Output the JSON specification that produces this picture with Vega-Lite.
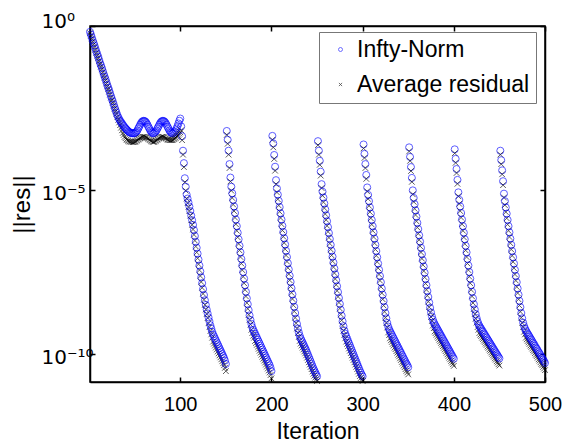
{
"$schema": "https://vega.github.io/schema/vega-lite/v6.json",
"width": 455, "height": 356,
"autosize": {"type": "none"},
"padding": {"left": 90, "top": 26, "right": 20, "bottom": 60},
"background": "white",
"config": {"view": {"stroke": "black", "strokeWidth": 1.5}, "font": "Liberation Sans"},
"data": {"values": [
{"x":1,"n":6.61e-1,"a":6.03e-1},{"x":2,"n":5.50e-1,"a":5.01e-1},{"x":3,"n":4.47e-1,"a":4.07e-1},{"x":4,"n":3.63e-1,"a":3.31e-1},{"x":5,"n":3.02e-1,"a":2.75e-1},
{"x":6,"n":2.51e-1,"a":2.29e-1},{"x":7,"n":2.04e-1,"a":1.86e-1},{"x":8,"n":1.66e-1,"a":1.51e-1},{"x":9,"n":1.38e-1,"a":1.26e-1},{"x":10,"n":1.15e-1,"a":1.05e-1},
{"x":11,"n":9.33e-2,"a":8.51e-2},{"x":12,"n":7.59e-2,"a":6.92e-2},{"x":13,"n":6.31e-2,"a":5.75e-2},{"x":14,"n":5.25e-2,"a":4.79e-2},{"x":15,"n":4.27e-2,"a":3.89e-2},
{"x":16,"n":3.47e-2,"a":3.16e-2},{"x":17,"n":2.88e-2,"a":2.63e-2},{"x":18,"n":2.40e-2,"a":2.19e-2},{"x":19,"n":1.95e-2,"a":1.78e-2},{"x":20,"n":1.58e-2,"a":1.45e-2},
{"x":21,"n":1.32e-2,"a":1.20e-2},{"x":22,"n":1.10e-2,"a":1.00e-2},{"x":23,"n":8.91e-3,"a":8.13e-3},{"x":24,"n":7.24e-3,"a":6.61e-3},{"x":25,"n":6.03e-3,"a":5.50e-3},
{"x":26,"n":5.01e-3,"a":4.57e-3},{"x":27,"n":4.07e-3,"a":3.72e-3},{"x":28,"n":3.31e-3,"a":3.02e-3},{"x":29,"n":2.75e-3,"a":2.51e-3},{"x":30,"n":2.29e-3,"a":2.09e-3},
{"x":31,"n":1.91e-3,"a":1.66e-3},{"x":32,"n":1.66e-3,"a":1.38e-3},{"x":33,"n":1.45e-3,"a":1.15e-3},{"x":34,"n":1.29e-3,"a":9.55e-4},{"x":35,"n":1.18e-3,"a":7.94e-4},
{"x":36,"n":1.07e-3,"a":6.61e-4},{"x":37,"n":9.77e-4,"a":5.50e-4},{"x":38,"n":8.91e-4,"a":4.79e-4},{"x":39,"n":8.13e-4,"a":4.17e-4},{"x":40,"n":7.59e-4,"a":3.80e-4},
{"x":41,"n":7.08e-4,"a":3.47e-4},{"x":42,"n":6.61e-4,"a":3.31e-4},{"x":43,"n":6.17e-4,"a":3.16e-4},{"x":44,"n":5.89e-4,"a":3.02e-4},{"x":45,"n":5.62e-4,"a":3.02e-4},
{"x":46,"n":5.50e-4,"a":2.95e-4},{"x":47,"n":5.37e-4,"a":2.95e-4},{"x":48,"n":5.37e-4,"a":2.88e-4},{"x":49,"n":5.37e-4,"a":2.88e-4},{"x":50,"n":5.37e-4,"a":2.95e-4},
{"x":51,"n":5.62e-4,"a":3.02e-4},{"x":52,"n":6.03e-4,"a":3.16e-4},{"x":53,"n":6.61e-4,"a":3.31e-4},{"x":54,"n":7.59e-4,"a":3.47e-4},{"x":55,"n":8.51e-4,"a":3.63e-4},
{"x":56,"n":9.77e-4,"a":3.80e-4},{"x":57,"n":1.10e-3,"a":3.98e-4},{"x":58,"n":1.20e-3,"a":4.07e-4},{"x":59,"n":1.26e-3,"a":4.17e-4},{"x":60,"n":1.29e-3,"a":4.17e-4},
{"x":61,"n":1.26e-3,"a":4.17e-4},{"x":62,"n":1.20e-3,"a":4.07e-4},{"x":63,"n":1.10e-3,"a":3.98e-4},{"x":64,"n":9.77e-4,"a":3.80e-4},{"x":65,"n":8.51e-4,"a":3.63e-4},
{"x":66,"n":7.59e-4,"a":3.47e-4},{"x":67,"n":6.61e-4,"a":3.31e-4},{"x":68,"n":6.03e-4,"a":3.16e-4},{"x":69,"n":5.62e-4,"a":3.02e-4},{"x":70,"n":5.37e-4,"a":2.95e-4},
{"x":71,"n":5.37e-4,"a":2.95e-4},{"x":72,"n":5.62e-4,"a":3.02e-4},{"x":73,"n":6.03e-4,"a":3.16e-4},{"x":74,"n":6.61e-4,"a":3.31e-4},{"x":75,"n":7.59e-4,"a":3.47e-4},
{"x":76,"n":8.51e-4,"a":3.63e-4},{"x":77,"n":9.77e-4,"a":3.80e-4},{"x":78,"n":1.10e-3,"a":3.98e-4},{"x":79,"n":1.20e-3,"a":4.07e-4},{"x":80,"n":1.26e-3,"a":4.17e-4},
{"x":81,"n":1.29e-3,"a":4.17e-4},{"x":82,"n":1.26e-3,"a":4.07e-4},{"x":83,"n":1.20e-3,"a":3.98e-4},{"x":84,"n":1.10e-3,"a":3.80e-4},{"x":85,"n":9.77e-4,"a":3.63e-4},
{"x":86,"n":8.51e-4,"a":3.47e-4},{"x":87,"n":7.59e-4,"a":3.39e-4},{"x":88,"n":6.61e-4,"a":3.31e-4},{"x":89,"n":6.03e-4,"a":3.31e-4},{"x":90,"n":5.62e-4,"a":3.31e-4},
{"x":91,"n":5.37e-4,"a":3.31e-4},{"x":92,"n":5.37e-4,"a":3.39e-4},{"x":93,"n":5.62e-4,"a":3.55e-4},{"x":94,"n":6.03e-4,"a":3.72e-4},{"x":95,"n":6.61e-4,"a":3.89e-4},
{"x":96,"n":7.59e-4,"a":4.17e-4},{"x":97,"n":8.91e-4,"a":4.47e-4},{"x":98,"n":1.07e-3,"a":4.79e-4},{"x":99,"n":1.29e-3,"a":5.25e-4},{"x":100,"n":1.51e-3,"a":5.75e-4},
{"x":101,"n":8.71e-4,"a":6.61e-4},{"x":102,"n":4.37e-4,"a":3.31e-4},{"x":103,"n":1.58e-4,"a":1.20e-4},{"x":104,"n":6.61e-5,"a":5.01e-5},{"x":105,"n":2.29e-5,"a":1.74e-5},
{"x":106,"n":1.26e-5,"a":9.55e-6},{"x":107,"n":7.24e-6,"a":5.50e-6},{"x":108,"n":5.50e-6,"a":3.98e-6},{"x":109,"n":4.17e-6,"a":3.02e-6},{"x":110,"n":3.16e-6,"a":2.29e-6},
{"x":111,"n":2.29e-6,"a":1.66e-6},{"x":112,"n":1.66e-6,"a":1.20e-6},{"x":113,"n":1.20e-6,"a":8.71e-7},{"x":114,"n":8.71e-7,"a":6.31e-7},{"x":115,"n":6.03e-7,"a":4.37e-7},
{"x":116,"n":3.98e-7,"a":2.88e-7},{"x":117,"n":2.63e-7,"a":1.91e-7},{"x":118,"n":1.74e-7,"a":1.26e-7},{"x":119,"n":1.15e-7,"a":8.32e-8},{"x":120,"n":7.59e-8,"a":5.50e-8},
{"x":121,"n":5.01e-8,"a":3.63e-8},{"x":122,"n":3.31e-8,"a":2.40e-8},{"x":123,"n":2.19e-8,"a":1.58e-8},{"x":124,"n":1.45e-8,"a":1.05e-8},{"x":125,"n":9.55e-9,"a":6.92e-9},
{"x":126,"n":6.31e-9,"a":4.57e-9},{"x":127,"n":4.37e-9,"a":3.16e-9},{"x":128,"n":3.16e-9,"a":2.29e-9},{"x":129,"n":2.29e-9,"a":1.66e-9},{"x":130,"n":1.74e-9,"a":1.26e-9},
{"x":131,"n":1.32e-9,"a":8.71e-10},{"x":132,"n":1.00e-9,"a":6.61e-10},{"x":133,"n":7.59e-10,"a":5.01e-10},{"x":134,"n":6.03e-10,"a":3.98e-10},{"x":135,"n":4.79e-10,"a":3.16e-10},
{"x":136,"n":3.98e-10,"a":2.40e-10},{"x":137,"n":3.47e-10,"a":2.09e-10},{"x":138,"n":3.02e-10,"a":1.82e-10},{"x":139,"n":2.63e-10,"a":1.58e-10},{"x":140,"n":2.29e-10,"a":1.38e-10},
{"x":141,"n":2.00e-10,"a":1.20e-10},{"x":142,"n":1.74e-10,"a":1.05e-10},{"x":143,"n":1.51e-10,"a":9.12e-11},{"x":144,"n":1.32e-10,"a":7.94e-11},{"x":145,"n":1.15e-10,"a":6.92e-11},
{"x":146,"n":1.00e-10,"a":6.03e-11},{"x":147,"n":8.71e-11,"a":5.25e-11},{"x":148,"n":7.59e-11,"a":4.57e-11},{"x":149,"n":6.31e-11,"a":3.80e-11},{"x":150,"n":5.01e-11,"a":3.02e-11},
{"x":151,"n":6.31e-4,"a":4.79e-4},{"x":152,"n":3.39e-4,"a":2.57e-4},{"x":153,"n":1.58e-4,"a":1.20e-4},{"x":154,"n":6.17e-5,"a":4.68e-5},{"x":155,"n":2.40e-5,"a":1.82e-5},
{"x":156,"n":1.26e-5,"a":9.55e-6},{"x":157,"n":7.94e-6,"a":5.75e-6},{"x":158,"n":5.01e-6,"a":3.63e-6},{"x":159,"n":3.16e-6,"a":2.29e-6},{"x":160,"n":2.00e-6,"a":1.45e-6},
{"x":161,"n":1.26e-6,"a":9.12e-7},{"x":162,"n":7.94e-7,"a":5.75e-7},{"x":163,"n":5.01e-7,"a":3.63e-7},{"x":164,"n":3.16e-7,"a":2.29e-7},{"x":165,"n":2.00e-7,"a":1.45e-7},
{"x":166,"n":1.26e-7,"a":9.12e-8},{"x":167,"n":7.94e-8,"a":5.75e-8},{"x":168,"n":5.01e-8,"a":3.63e-8},{"x":169,"n":3.16e-8,"a":2.29e-8},{"x":170,"n":2.00e-8,"a":1.45e-8},
{"x":171,"n":1.26e-8,"a":9.12e-9},{"x":172,"n":7.94e-9,"a":5.75e-9},{"x":173,"n":5.01e-9,"a":3.63e-9},{"x":174,"n":3.31e-9,"a":2.40e-9},{"x":175,"n":2.19e-9,"a":1.58e-9},
{"x":176,"n":1.51e-9,"a":1.10e-9},{"x":177,"n":1.10e-9,"a":7.94e-10},{"x":178,"n":8.32e-10,"a":5.50e-10},{"x":179,"n":6.61e-10,"a":4.37e-10},{"x":180,"n":5.50e-10,"a":3.63e-10},
{"x":181,"n":4.79e-10,"a":3.16e-10},{"x":182,"n":4.17e-10,"a":2.51e-10},{"x":183,"n":3.63e-10,"a":2.19e-10},{"x":184,"n":3.16e-10,"a":1.91e-10},{"x":185,"n":2.75e-10,"a":1.66e-10},
{"x":186,"n":2.40e-10,"a":1.45e-10},{"x":187,"n":2.09e-10,"a":1.26e-10},{"x":188,"n":1.82e-10,"a":1.10e-10},{"x":189,"n":1.58e-10,"a":9.55e-11},{"x":190,"n":1.38e-10,"a":8.32e-11},
{"x":191,"n":1.20e-10,"a":7.24e-11},{"x":192,"n":1.05e-10,"a":6.31e-11},{"x":193,"n":9.12e-11,"a":5.50e-11},{"x":194,"n":7.94e-11,"a":4.79e-11},{"x":195,"n":6.92e-11,"a":4.17e-11},
{"x":196,"n":6.03e-11,"a":3.63e-11},{"x":197,"n":5.25e-11,"a":3.16e-11},{"x":198,"n":4.57e-11,"a":2.75e-11},{"x":199,"n":3.80e-11,"a":2.29e-11},{"x":200,"n":3.02e-11,"a":1.82e-11},
{"x":201,"n":4.47e-4,"a":3.39e-4},{"x":202,"n":2.63e-4,"a":2.00e-4},{"x":203,"n":1.17e-4,"a":8.91e-5},{"x":204,"n":5.13e-5,"a":3.89e-5},{"x":205,"n":2.00e-5,"a":1.51e-5},
{"x":206,"n":1.12e-5,"a":8.51e-6},{"x":207,"n":7.24e-6,"a":5.25e-6},{"x":208,"n":4.68e-6,"a":3.39e-6},{"x":209,"n":3.02e-6,"a":2.19e-6},{"x":210,"n":1.95e-6,"a":1.41e-6},
{"x":211,"n":1.26e-6,"a":9.12e-7},{"x":212,"n":8.13e-7,"a":5.89e-7},{"x":213,"n":5.25e-7,"a":3.80e-7},{"x":214,"n":3.39e-7,"a":2.45e-7},{"x":215,"n":2.19e-7,"a":1.58e-7},
{"x":216,"n":1.41e-7,"a":1.02e-7},{"x":217,"n":9.12e-8,"a":6.61e-8},{"x":218,"n":5.89e-8,"a":4.27e-8},{"x":219,"n":3.80e-8,"a":2.75e-8},{"x":220,"n":2.45e-8,"a":1.78e-8},
{"x":221,"n":1.58e-8,"a":1.15e-8},{"x":222,"n":1.02e-8,"a":7.41e-9},{"x":223,"n":6.61e-9,"a":4.79e-9},{"x":224,"n":4.27e-9,"a":3.09e-9},{"x":225,"n":2.75e-9,"a":2.00e-9},
{"x":226,"n":1.78e-9,"a":1.29e-9},{"x":227,"n":1.20e-9,"a":8.71e-10},{"x":228,"n":8.32e-10,"a":6.03e-10},{"x":229,"n":6.03e-10,"a":4.37e-10},{"x":230,"n":4.57e-10,"a":3.31e-10},
{"x":231,"n":3.63e-10,"a":2.51e-10},{"x":232,"n":3.02e-10,"a":2.09e-10},{"x":233,"n":2.63e-10,"a":1.82e-10},{"x":234,"n":2.29e-10,"a":1.58e-10},{"x":235,"n":2.00e-10,"a":1.38e-10},
{"x":236,"n":1.74e-10,"a":1.20e-10},{"x":237,"n":1.51e-10,"a":1.05e-10},{"x":238,"n":1.32e-10,"a":9.12e-11},{"x":239,"n":1.12e-10,"a":7.76e-11},{"x":240,"n":9.55e-11,"a":6.61e-11},
{"x":241,"n":8.13e-11,"a":5.62e-11},{"x":242,"n":6.92e-11,"a":4.79e-11},{"x":243,"n":5.89e-11,"a":4.07e-11},{"x":244,"n":5.01e-11,"a":3.47e-11},{"x":245,"n":4.27e-11,"a":2.95e-11},
{"x":246,"n":3.63e-11,"a":2.51e-11},{"x":247,"n":3.16e-11,"a":2.19e-11},{"x":248,"n":2.75e-11,"a":1.91e-11},{"x":249,"n":2.40e-11,"a":1.70e-11},{"x":250,"n":2.09e-11,"a":1.51e-11},
{"x":251,"n":3.09e-4,"a":2.34e-4},{"x":252,"n":1.58e-4,"a":1.20e-4},{"x":253,"n":7.76e-5,"a":5.89e-5},{"x":254,"n":3.63e-5,"a":2.75e-5},{"x":255,"n":1.51e-5,"a":1.15e-5},
{"x":256,"n":8.91e-6,"a":6.76e-6},{"x":257,"n":5.89e-6,"a":4.27e-6},{"x":258,"n":3.89e-6,"a":2.82e-6},{"x":259,"n":2.57e-6,"a":1.86e-6},{"x":260,"n":1.70e-6,"a":1.23e-6},
{"x":261,"n":1.12e-6,"a":8.13e-7},{"x":262,"n":7.41e-7,"a":5.37e-7},{"x":263,"n":4.90e-7,"a":3.55e-7},{"x":264,"n":3.24e-7,"a":2.34e-7},{"x":265,"n":2.14e-7,"a":1.55e-7},
{"x":266,"n":1.41e-7,"a":1.02e-7},{"x":267,"n":9.33e-8,"a":6.76e-8},{"x":268,"n":6.17e-8,"a":4.47e-8},{"x":269,"n":4.07e-8,"a":2.95e-8},{"x":270,"n":2.69e-8,"a":1.95e-8},
{"x":271,"n":1.78e-8,"a":1.29e-8},{"x":272,"n":1.17e-8,"a":8.51e-9},{"x":273,"n":7.76e-9,"a":5.62e-9},{"x":274,"n":5.13e-9,"a":3.72e-9},{"x":275,"n":3.39e-9,"a":2.45e-9},
{"x":276,"n":2.24e-9,"a":1.62e-9},{"x":277,"n":1.48e-9,"a":1.07e-9},{"x":278,"n":1.00e-9,"a":7.24e-10},{"x":279,"n":7.08e-10,"a":5.13e-10},{"x":280,"n":5.25e-10,"a":3.80e-10},
{"x":281,"n":4.17e-10,"a":3.02e-10},{"x":282,"n":3.47e-10,"a":2.40e-10},{"x":283,"n":2.95e-10,"a":2.04e-10},{"x":284,"n":2.51e-10,"a":1.74e-10},{"x":285,"n":2.14e-10,"a":1.48e-10},
{"x":286,"n":1.82e-10,"a":1.26e-10},{"x":287,"n":1.55e-10,"a":1.07e-10},{"x":288,"n":1.32e-10,"a":9.12e-11},{"x":289,"n":1.12e-10,"a":7.76e-11},{"x":290,"n":9.55e-11,"a":6.61e-11},
{"x":291,"n":8.13e-11,"a":5.62e-11},{"x":292,"n":6.92e-11,"a":4.79e-11},{"x":293,"n":5.89e-11,"a":4.07e-11},{"x":294,"n":5.01e-11,"a":3.47e-11},{"x":295,"n":4.27e-11,"a":2.95e-11},
{"x":296,"n":3.63e-11,"a":2.51e-11},{"x":297,"n":3.09e-11,"a":2.14e-11},{"x":298,"n":2.69e-11,"a":1.86e-11},{"x":299,"n":2.34e-11,"a":1.66e-11},{"x":300,"n":2.09e-11,"a":1.51e-11},
{"x":301,"n":2.45e-4,"a":1.86e-4},{"x":302,"n":1.26e-4,"a":9.55e-5},{"x":303,"n":6.17e-5,"a":4.68e-5},{"x":304,"n":2.88e-5,"a":2.19e-5},{"x":305,"n":1.20e-5,"a":9.12e-6},
{"x":306,"n":7.08e-6,"a":5.37e-6},{"x":307,"n":4.57e-6,"a":3.31e-6},{"x":308,"n":2.95e-6,"a":2.14e-6},{"x":309,"n":1.91e-6,"a":1.38e-6},{"x":310,"n":1.23e-6,"a":8.91e-7},
{"x":311,"n":7.94e-7,"a":5.75e-7},{"x":312,"n":5.13e-7,"a":3.72e-7},{"x":313,"n":3.31e-7,"a":2.40e-7},{"x":314,"n":2.14e-7,"a":1.55e-7},{"x":315,"n":1.38e-7,"a":1.00e-7},
{"x":316,"n":8.91e-8,"a":6.46e-8},{"x":317,"n":5.75e-8,"a":4.17e-8},{"x":318,"n":3.72e-8,"a":2.69e-8},{"x":319,"n":2.40e-8,"a":1.74e-8},{"x":320,"n":1.55e-8,"a":1.12e-8},
{"x":321,"n":1.00e-8,"a":7.24e-9},{"x":322,"n":6.46e-9,"a":4.68e-9},{"x":323,"n":4.17e-9,"a":3.02e-9},{"x":324,"n":2.69e-9,"a":1.95e-9},{"x":325,"n":1.78e-9,"a":1.29e-9},
{"x":326,"n":1.23e-9,"a":8.91e-10},{"x":327,"n":8.91e-10,"a":6.46e-10},{"x":328,"n":6.92e-10,"a":4.57e-10},{"x":329,"n":5.75e-10,"a":3.80e-10},{"x":330,"n":5.01e-10,"a":3.02e-10},
{"x":331,"n":4.37e-10,"a":2.63e-10},{"x":332,"n":3.89e-10,"a":2.34e-10},{"x":333,"n":3.39e-10,"a":2.04e-10},{"x":334,"n":3.02e-10,"a":1.82e-10},{"x":335,"n":2.63e-10,"a":1.58e-10},
{"x":336,"n":2.34e-10,"a":1.41e-10},{"x":337,"n":2.04e-10,"a":1.23e-10},{"x":338,"n":1.82e-10,"a":1.10e-10},{"x":339,"n":1.58e-10,"a":9.55e-11},{"x":340,"n":1.41e-10,"a":8.51e-11},
{"x":341,"n":1.23e-10,"a":7.41e-11},{"x":342,"n":1.10e-10,"a":6.61e-11},{"x":343,"n":9.55e-11,"a":5.75e-11},{"x":344,"n":8.51e-11,"a":5.13e-11},{"x":345,"n":7.41e-11,"a":4.47e-11},
{"x":346,"n":6.61e-11,"a":3.98e-11},{"x":347,"n":5.75e-11,"a":3.47e-11},{"x":348,"n":5.13e-11,"a":3.09e-11},{"x":349,"n":4.57e-11,"a":2.75e-11},{"x":350,"n":3.98e-11,"a":2.40e-11},
{"x":351,"n":2.00e-4,"a":1.51e-4},{"x":352,"n":1.02e-4,"a":7.76e-5},{"x":353,"n":5.01e-5,"a":3.80e-5},{"x":354,"n":2.34e-5,"a":1.78e-5},{"x":355,"n":9.77e-6,"a":7.41e-6},
{"x":356,"n":5.75e-6,"a":4.37e-6},{"x":357,"n":3.72e-6,"a":2.69e-6},{"x":358,"n":2.40e-6,"a":1.74e-6},{"x":359,"n":1.55e-6,"a":1.12e-6},{"x":360,"n":1.00e-6,"a":7.24e-7},
{"x":361,"n":6.46e-7,"a":4.68e-7},{"x":362,"n":4.17e-7,"a":3.02e-7},{"x":363,"n":2.69e-7,"a":1.95e-7},{"x":364,"n":1.74e-7,"a":1.26e-7},{"x":365,"n":1.12e-7,"a":8.13e-8},
{"x":366,"n":7.24e-8,"a":5.25e-8},{"x":367,"n":4.68e-8,"a":3.39e-8},{"x":368,"n":3.02e-8,"a":2.19e-8},{"x":369,"n":1.95e-8,"a":1.41e-8},{"x":370,"n":1.26e-8,"a":9.12e-9},
{"x":371,"n":8.32e-9,"a":6.03e-9},{"x":372,"n":5.50e-9,"a":3.98e-9},{"x":373,"n":3.72e-9,"a":2.69e-9},{"x":374,"n":2.57e-9,"a":1.86e-9},{"x":375,"n":1.86e-9,"a":1.35e-9},
{"x":376,"n":1.41e-9,"a":1.02e-9},{"x":377,"n":1.12e-9,"a":7.41e-10},{"x":378,"n":9.33e-10,"a":6.17e-10},{"x":379,"n":8.13e-10,"a":4.90e-10},{"x":380,"n":7.24e-10,"a":4.37e-10},
{"x":381,"n":6.46e-10,"a":3.89e-10},{"x":382,"n":5.75e-10,"a":3.47e-10},{"x":383,"n":5.13e-10,"a":3.09e-10},{"x":384,"n":4.57e-10,"a":2.75e-10},{"x":385,"n":4.07e-10,"a":2.45e-10},
{"x":386,"n":3.63e-10,"a":2.19e-10},{"x":387,"n":3.24e-10,"a":1.95e-10},{"x":388,"n":2.88e-10,"a":1.74e-10},{"x":389,"n":2.57e-10,"a":1.55e-10},{"x":390,"n":2.29e-10,"a":1.38e-10},
{"x":391,"n":2.04e-10,"a":1.23e-10},{"x":392,"n":1.82e-10,"a":1.10e-10},{"x":393,"n":1.62e-10,"a":9.77e-11},{"x":394,"n":1.45e-10,"a":8.71e-11},{"x":395,"n":1.29e-10,"a":7.76e-11},
{"x":396,"n":1.15e-10,"a":6.92e-11},{"x":397,"n":1.02e-10,"a":6.17e-11},{"x":398,"n":9.12e-11,"a":5.50e-11},{"x":399,"n":8.13e-11,"a":4.90e-11},{"x":400,"n":7.24e-11,"a":4.37e-11},
{"x":401,"n":1.74e-4,"a":1.32e-4},{"x":402,"n":8.91e-5,"a":6.76e-5},{"x":403,"n":4.37e-5,"a":3.31e-5},{"x":404,"n":2.04e-5,"a":1.55e-5},{"x":405,"n":8.51e-6,"a":6.46e-6},
{"x":406,"n":5.01e-6,"a":3.80e-6},{"x":407,"n":3.16e-6,"a":2.29e-6},{"x":408,"n":2.00e-6,"a":1.45e-6},{"x":409,"n":1.26e-6,"a":9.12e-7},{"x":410,"n":7.94e-7,"a":5.75e-7},
{"x":411,"n":5.01e-7,"a":3.63e-7},{"x":412,"n":3.16e-7,"a":2.29e-7},{"x":413,"n":2.00e-7,"a":1.45e-7},{"x":414,"n":1.26e-7,"a":9.12e-8},{"x":415,"n":7.94e-8,"a":5.75e-8},
{"x":416,"n":5.01e-8,"a":3.63e-8},{"x":417,"n":3.16e-8,"a":2.29e-8},{"x":418,"n":2.00e-8,"a":1.45e-8},{"x":419,"n":1.26e-8,"a":9.12e-9},{"x":420,"n":7.94e-9,"a":5.75e-9},
{"x":421,"n":5.01e-9,"a":3.63e-9},{"x":422,"n":3.31e-9,"a":2.40e-9},{"x":423,"n":2.29e-9,"a":1.66e-9},{"x":424,"n":1.66e-9,"a":1.20e-9},{"x":425,"n":1.26e-9,"a":9.12e-10},
{"x":426,"n":1.00e-9,"a":6.61e-10},{"x":427,"n":8.32e-10,"a":5.50e-10},{"x":428,"n":7.24e-10,"a":4.37e-10},{"x":429,"n":6.46e-10,"a":3.89e-10},{"x":430,"n":5.89e-10,"a":3.55e-10},
{"x":431,"n":5.25e-10,"a":3.16e-10},{"x":432,"n":4.79e-10,"a":2.88e-10},{"x":433,"n":4.27e-10,"a":2.57e-10},{"x":434,"n":3.89e-10,"a":2.34e-10},{"x":435,"n":3.47e-10,"a":2.09e-10},
{"x":436,"n":3.16e-10,"a":1.91e-10},{"x":437,"n":2.82e-10,"a":1.70e-10},{"x":438,"n":2.57e-10,"a":1.55e-10},{"x":439,"n":2.29e-10,"a":1.38e-10},{"x":440,"n":2.09e-10,"a":1.26e-10},
{"x":441,"n":1.86e-10,"a":1.12e-10},{"x":442,"n":1.70e-10,"a":1.02e-10},{"x":443,"n":1.51e-10,"a":9.12e-11},{"x":444,"n":1.38e-10,"a":8.32e-11},{"x":445,"n":1.23e-10,"a":7.41e-11},
{"x":446,"n":1.12e-10,"a":6.76e-11},{"x":447,"n":1.00e-10,"a":6.03e-11},{"x":448,"n":9.12e-11,"a":5.50e-11},{"x":449,"n":8.13e-11,"a":4.90e-11},{"x":450,"n":7.41e-11,"a":4.47e-11},
{"x":451,"n":1.58e-4,"a":1.20e-4},{"x":452,"n":8.13e-5,"a":6.17e-5},{"x":453,"n":3.98e-5,"a":3.02e-5},{"x":454,"n":1.86e-5,"a":1.41e-5},{"x":455,"n":7.76e-6,"a":5.89e-6},
{"x":456,"n":4.57e-6,"a":3.47e-6},{"x":457,"n":2.95e-6,"a":2.14e-6},{"x":458,"n":1.91e-6,"a":1.38e-6},{"x":459,"n":1.23e-6,"a":8.91e-7},{"x":460,"n":7.94e-7,"a":5.75e-7},
{"x":461,"n":5.13e-7,"a":3.72e-7},{"x":462,"n":3.31e-7,"a":2.40e-7},{"x":463,"n":2.14e-7,"a":1.55e-7},{"x":464,"n":1.38e-7,"a":1.00e-7},{"x":465,"n":8.91e-8,"a":6.46e-8},
{"x":466,"n":5.75e-8,"a":4.17e-8},{"x":467,"n":3.72e-8,"a":2.69e-8},{"x":468,"n":2.40e-8,"a":1.74e-8},{"x":469,"n":1.55e-8,"a":1.12e-8},{"x":470,"n":1.00e-8,"a":7.24e-9},
{"x":471,"n":6.46e-9,"a":4.68e-9},{"x":472,"n":4.17e-9,"a":3.02e-9},{"x":473,"n":2.69e-9,"a":1.95e-9},{"x":474,"n":1.78e-9,"a":1.29e-9},{"x":475,"n":1.23e-9,"a":8.91e-10},
{"x":476,"n":9.12e-10,"a":6.61e-10},{"x":477,"n":7.24e-10,"a":4.79e-10},{"x":478,"n":6.03e-10,"a":3.98e-10},{"x":479,"n":5.25e-10,"a":3.16e-10},{"x":480,"n":4.68e-10,"a":2.82e-10},
{"x":481,"n":4.17e-10,"a":2.51e-10},{"x":482,"n":3.80e-10,"a":2.29e-10},{"x":483,"n":3.39e-10,"a":2.04e-10},{"x":484,"n":3.02e-10,"a":1.82e-10},{"x":485,"n":2.75e-10,"a":1.66e-10},
{"x":486,"n":2.45e-10,"a":1.48e-10},{"x":487,"n":2.19e-10,"a":1.32e-10},{"x":488,"n":2.00e-10,"a":1.20e-10},{"x":489,"n":1.78e-10,"a":1.07e-10},{"x":490,"n":1.58e-10,"a":9.55e-11},
{"x":491,"n":1.45e-10,"a":8.71e-11},{"x":492,"n":1.29e-10,"a":7.76e-11},{"x":493,"n":1.15e-10,"a":6.92e-11},{"x":494,"n":1.05e-10,"a":6.31e-11},{"x":495,"n":9.33e-11,"a":5.62e-11},
{"x":496,"n":8.32e-11,"a":5.01e-11},{"x":497,"n":7.59e-11,"a":4.57e-11},{"x":498,"n":6.76e-11,"a":4.07e-11},{"x":499,"n":6.03e-11,"a":3.63e-11},{"x":500,"n":5.37e-11,"a":3.24e-11}
]},
"transform": [{"fold": ["n", "a"], "as": ["series", "res"]}],
"layer": [
 {
  "mark": {"type": "point", "filled": false, "size": 50, "strokeWidth": 0.9},
  "encoding": {
   "x": {"field": "x", "type": "quantitative", "scale": {"domain": [1, 500], "nice": false, "zero": false},
         "axis": {"orient": "bottom", "values": [100, 200, 300, 400, 500], "grid": false, "tickSize": -5, "tickWidth": 1.5, "tickColor": "black",
                  "domainColor": "black", "domainWidth": 1.5, "labelFontSize": 20, "labelColor": "black", "labelPadding": 17, "labelFlush": false,
                  "title": "Iteration", "titleFontSize": 23, "titleFontWeight": "normal", "titleColor": "black", "titleY": 56, "titleBaseline": "alphabetic"}},
   "y": {"field": "res", "type": "quantitative", "scale": {"type": "log", "domain": [1.41e-11, 1], "nice": false},
         "axis": {"orient": "left", "values": [1e-10, 1e-5, 1], "grid": false, "tickSize": -5, "tickWidth": 1.5, "tickColor": "black",
                  "domainColor": "black", "domainWidth": 1.5, "labelFont": "DejaVu Sans", "labelFontSize": 20, "labelColor": "black", "labelAlign": "left", "labelBaseline": "middle",
                  "labelPadding": 54, "labelOffset": {"condition": {"test": "datum.value > 0.5", "value": -5}, "value": 3},
                  "labelExpr": "datum.value > 0.5 ? '10⁰' : (datum.value > 1e-7 ? '10⁻⁵' : '10⁻¹⁰')",
                  "title": "||res||", "titleFontSize": 24, "titleFontWeight": "normal", "titleColor": "black", "titleAngle": 270,
                  "titleX": -68, "titleY": 178, "titleBaseline": "middle", "titleAlign": "center"}},
   "color": {"field": "series", "type": "nominal", "scale": {"domain": ["n", "a"], "range": ["#0000ff", "#000000"]},
             "legend": {"orient": "none", "legendX": 229, "legendY": 6, "title": null, "fillColor": "white", "strokeColor": "#777777", "padding": 6,
                        "symbolSize": 16, "symbolStrokeWidth": 0.8, "labelFontSize": 23, "labelColor": "black", "labelLimit": 400, "rowPadding": 11,
                        "symbolOffset": 4, "labelOffset": 5, "labelExpr": "datum.label == 'n' ? 'Infty-Norm' : 'Average residual'"}},
   "shape": {"field": "series", "type": "nominal", "scale": {"domain": ["n", "a"], "range": ["circle", "M-0.8,-0.8L0.8,0.8M-0.8,0.8L0.8,-0.8"]},
             "legend": {"orient": "none", "legendX": 229, "legendY": 6, "title": null, "fillColor": "white", "strokeColor": "#777777", "padding": 6,
                        "symbolSize": 16, "symbolStrokeWidth": 0.8, "labelFontSize": 23, "labelColor": "black", "labelLimit": 400, "rowPadding": 11,
                        "symbolOffset": 4, "labelOffset": 5, "labelExpr": "datum.label == 'n' ? 'Infty-Norm' : 'Average residual'"}}
  }
 },
 {
  "mark": {"type": "point", "opacity": 0},
  "encoding": {
   "x": {"field": "x", "type": "quantitative",
         "axis": {"orient": "top", "values": [100, 200, 300, 400, 500], "grid": false, "tickSize": -5, "tickWidth": 1.5, "tickColor": "black",
                  "domainColor": "black", "domainWidth": 1.5, "labels": false, "title": null}},
   "y": {"field": "res", "type": "quantitative",
         "axis": {"orient": "right", "values": [1e-10, 1e-5, 1], "grid": false, "tickSize": -5, "tickWidth": 1.5, "tickColor": "black",
                  "domainColor": "black", "domainWidth": 1.5, "labels": false, "title": null}}
  }
 }
],
"resolve": {"axis": {"x": "independent", "y": "independent"}}
}
